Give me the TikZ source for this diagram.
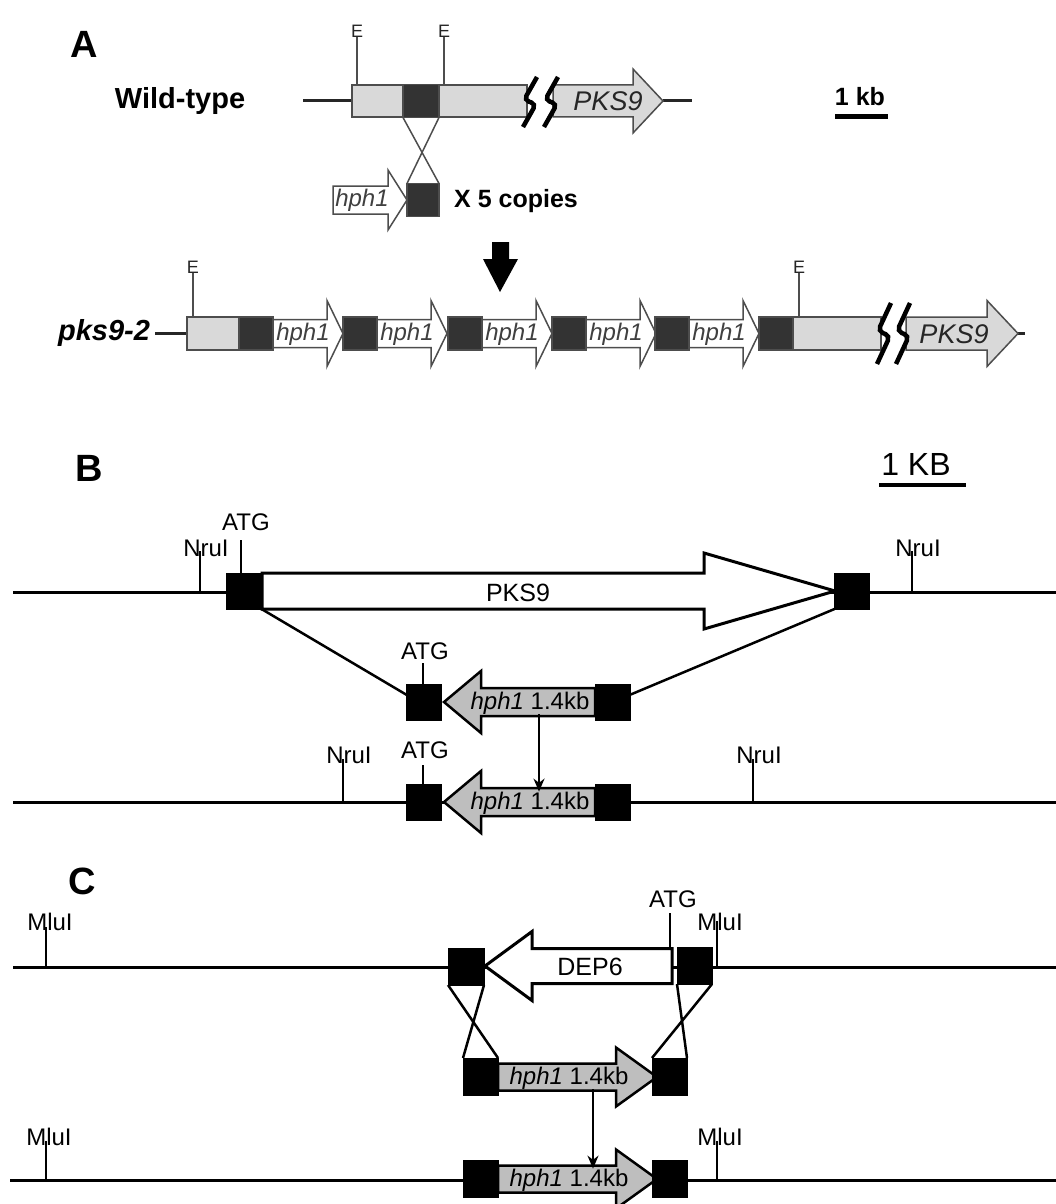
\documentclass[tikz,border=0pt]{standalone}
\usepackage{fontspec}
\setmainfont{Liberation Sans}
\usetikzlibrary{positioning,calc,arrows.meta}

\definecolor{lightfill}{HTML}{D9D9D9}
\definecolor{darkfill}{HTML}{333333}
\definecolor{hphfill}{HTML}{BEBEBE}
\definecolor{edgegray}{HTML}{4D4D4D}

% gene arrow: style, start x, head start x, tip x, centre y, body half, head half
\newcommand{\genearrow}[7]{%
  \draw[#1] (#2,#5-#6) -- (#3,#5-#6) -- (#3,#5-#7) -- (#4,#5)
    -- (#3,#5+#7) -- (#3,#5+#6) -- (#2,#5+#6) -- cycle;}
% break sign: centre x, top y, bottom y
\newcommand{\breaksign}[3]{%
  \draw[line width=4.5pt, rounded corners=5pt] (#1+7,#2) -- (#1-6,#2*0.54+#3*0.46)
    -- (#1+6,#2*0.46+#3*0.54) -- (#1-7,#3);}

\begin{document}
\begin{tikzpicture}[x=1pt, y=-1pt,
    dna/.style={line width=3pt, black!85},
    lightbox/.style={draw=edgegray, line width=1.5pt, fill=lightfill, inner sep=0pt, outer sep=0pt, minimum height=32pt},
    darkbox/.style={draw=edgegray, line width=1.5pt, fill=darkfill, inner sep=0pt, outer sep=0pt, minimum width=34pt, minimum height=33pt},
    blackbox/.style={draw=black, fill=black, inner sep=0pt, outer sep=0pt, minimum width=35pt, minimum height=36pt},
    white gene/.style={draw=edgegray, line width=1.5pt, fill=white, line join=miter},
    light gene/.style={draw=edgegray, line width=1.5pt, fill=lightfill, line join=miter},
    open gene/.style={draw=black, line width=3pt, fill=white, line join=miter},
    gray gene/.style={draw=black, line width=2.5pt, fill=hphfill, line join=miter},
    panel/.style={font=\fontsize{38}{40}\selectfont\bfseries, inner sep=0pt},
    tag/.style={font=\fontsize{29}{30}\selectfont\bfseries, inner sep=0pt},
    boldtxt/.style={font=\fontsize{25}{26}\selectfont\bfseries, inner sep=0pt},
    esite/.style={font=\fontsize{18}{19}\selectfont, inner sep=0pt, black!85},
    site/.style={font=\fontsize{24}{25}\selectfont, inner sep=0pt},
    genetxt/.style={font=\fontsize{24}{25}\selectfont, inner sep=0pt},
    etick/.style={line width=1.2pt, edgegray},
    tick/.style={line width=2.5pt},
    cross/.style={line width=2.5pt},
    thincross/.style={line width=1.5pt, edgegray},
    down/.style={-{Stealth[length=13pt,width=11pt]}, line width=2pt}
]
\useasboundingbox (0,0) rectangle (1056,1204);

% ---------------- A ----------------
\node[panel] (labA) at (84,44) {A};
\node[tag] (wt) at (180,101) {Wild-type};
\draw[dna] (303,101) -- (352,101);
\draw[dna] (663,101) -- (692,101);
\node[lightbox, minimum width=175pt] (wtbox) at (439.5,101) {};
\node[darkbox, minimum width=36pt] (wtdark) at (421,101) {};
\genearrow{light gene}{553}{633}{663}{101}{16}{32}
\node[genetxt, font=\fontsize{27}{28}\selectfont\itshape, black!85] (wtpks) at (608,101) {PKS9};
\breaksign{530}{77}{127}
\breaksign{551}{77}{127}
\node[esite] (e1) at (357,31) {E};
\node[esite] (e2) at (444,31) {E};
\draw[etick] (e1.south) -- (e1.south |- wtbox.north);
\draw[etick] (e2.south) -- (e2.south |- wtbox.north);

\node[boldtxt] (kb) at (860,97) {1 kb};
\draw[line width=5pt] (835,117) -- (888,117);

% cassette
\genearrow{white gene}{333}{388}{407}{200}{14}{30}
\node[genetxt, font=\fontsize{24}{25}\selectfont\itshape, black!75] (hA) at (362,200) {hph1};
\node[darkbox, minimum width=32pt] (cpdark) at (423,200) {};
\draw[thincross] (wtdark.south west) -- (cpdark.north east);
\draw[thincross] (wtdark.south east) -- (cpdark.north west);
\node[boldtxt] (copies) at (516,201) {X 5 copies};

% big arrow
\fill (492,242) -- (509,242) -- (509,259) -- (518,259) -- (500,292) -- (483,259) -- (492,259) -- cycle;

% pks9-2 locus
\node[tag, font=\fontsize{29}{30}\selectfont\bfseries\itshape] (mut) at (104,333) {pks9-2};
\draw[dna] (155,333) -- (187,333);
\draw[dna] (1016,333) -- (1025,333);
\node[lightbox, minimum width=52pt, minimum height=33pt] (mbox1) at (213,333.5) {};
\node[lightbox, minimum width=88pt, minimum height=33pt] (mbox2) at (837,333.5) {};
\foreach \x [count=\i] in {273,377,482,586,689} {
  \genearrow{white gene}{\x}{\x+54}{\x+70}{333.5}{14}{33}
  \node[genetxt, font=\fontsize{24}{25}\selectfont\itshape, black!75] (hph\i) at (\x+30,334) {hph1};
}
\foreach \x in {239,343,448,552,655,759}
  \node[darkbox] (d\x) at (\x+17,333.5) {};
\genearrow{light gene}{906}{987}{1018}{333.5}{16.5}{33}
\node[genetxt, font=\fontsize{27}{28}\selectfont\itshape, black!85] (mpks) at (954,334) {PKS9};
\breaksign{884}{303}{364}
\breaksign{903}{303}{364}
\node[esite] (e3) at (193,267) {E};
\node[esite] (e4) at (799,267) {E};
\draw[etick] (e3.south) -- (e3.south |- mbox1.north);
\draw[etick] (e4.south) -- (e4.south |- mbox2.north);

% ---------------- B ----------------
\node[panel] (labB) at (89,468) {B};
\node[site, font=\fontsize{32}{33}\selectfont] (KB) at (916,464) {1 KB};
\draw[line width=4.5pt] (879,485) -- (966,485);

\draw[dna, black] (13,592) -- (1056,592);
\genearrow{open gene}{262}{704}{835}{591}{18}{38}
\node[genetxt, font=\fontsize{25}{26}\selectfont] (pksB) at (518,593) {PKS9};
\node[blackbox] (bl) at (244,591) {};
\node[blackbox] (br) at (852,591) {};
\node[site] (n1) at (206,548) {NruI};
\node[site] (n2) at (918,548) {NruI};
\draw[tick] (200,551) -- (200,592);
\draw[tick] (912,551) -- (912,592);
\node[site] (atg1) at (246,522) {ATG};
\draw[tick] ($(bl.north)+(-3,0)$) -- ++(0,-33);

% replacement construct
\genearrow{gray gene}{595}{481}{444}{702}{14}{31}
\node[blackbox] (ml) at (424,702) {};
\node[blackbox] (mr) at (612.5,702) {};
\node[genetxt] (hm) at (530,703) {\textit{hph1} 1.4kb};
\node[site] (atg2) at (425,651) {ATG};
\draw[tick] ($(ml.north)+(-1,0)$) -- ++(0,-21);
\draw[cross] (bl.south east) -- ($(ml.north west)!0.3!(ml.south west)$);
\draw[cross] (br.south west) -- ($(mr.north east)!0.3!(mr.south east)$);

% result
\draw[dna, black] (13,802) -- (1056,802);
\genearrow{gray gene}{595}{481}{444}{802}{14}{31}
\node[blackbox] (bl2) at (424,802) {};
\node[blackbox] (br2) at (612.5,802) {};
\node[genetxt] (hl) at (530,803) {\textit{hph1} 1.4kb};
\node[site] (atg3) at (425,750) {ATG};
\draw[tick] ($(bl2.north)+(-1,0)$) -- ++(0,-19);
\node[site] (n3) at (349,755) {NruI};
\node[site] (n4) at (759,755) {NruI};
\draw[tick] (343,759) -- (343,802);
\draw[tick] (753,759) -- (753,802);
\draw[down] ([xshift=9pt]hm.south) -- ([xshift=9pt]hl.north);

% ---------------- C ----------------
\node[panel] (labC) at (82,881) {C};
\draw[dna, black] (13,967) -- (1056,967);
\genearrow{open gene}{672}{532}{485}{966}{17.5}{34.5}
\node[genetxt, font=\fontsize{25}{26}\selectfont] (dep) at (590,967) {DEP6};
\node[blackbox, minimum width=36pt, minimum height=37pt] (cl) at (466,966.5) {};
\node[blackbox, minimum width=35pt, minimum height=37pt] (cr) at (694.5,965.5) {};
\node[site] (m1) at (50,922) {MluI};
\node[site] (m2) at (720,922) {MluI};
\draw[tick] (46,927) -- (46,967);
\draw[tick] (717,921) -- (717,967);
\node[site] (atg4) at (673,899) {ATG};
\draw[tick] (670,913) -- (670,948);

% replacement construct
\genearrow{gray gene}{498}{616}{657}{1077}{13.5}{29.5}
\node[blackbox, minimum height=37pt] (cl2) at (480.5,1076.5) {};
\node[blackbox, minimum height=37pt] (cr2) at (669.5,1076.5) {};
\node[genetxt] (hc1) at (569,1078) {\textit{hph1} 1.4kb};
\draw[cross] (cl.south west) -- (cl2.north east);
\draw[cross] (cl.south east) -- (cl2.north west);
\draw[cross] (cr.south west) -- (cr2.north east);
\draw[cross] (cr.south east) -- (cr2.north west);

% result
\draw[dna, black] (10,1180) -- (1056,1180);
\genearrow{gray gene}{498}{616}{657}{1179}{13.5}{29.5}
\node[blackbox, minimum height=37pt] (cl3) at (480.5,1178.5) {};
\node[blackbox, minimum height=37pt] (cr3) at (669.5,1178.5) {};
\node[genetxt] (hc2) at (569,1180) {\textit{hph1} 1.4kb};
\node[site] (m3) at (49,1137) {MluI};
\node[site] (m4) at (720,1137) {MluI};
\draw[tick] (46,1141) -- (46,1180);
\draw[tick] (717,1141) -- (717,1180);
\draw[down] ([xshift=24pt]hc1.south) -- ([xshift=24pt]hc2.north);
\end{tikzpicture}
\end{document}
